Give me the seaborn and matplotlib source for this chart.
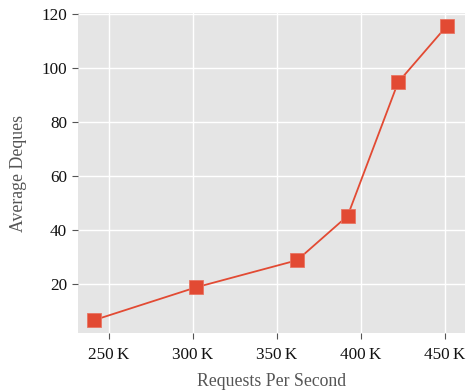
import matplotlib
matplotlib.use("Agg")
import matplotlib.pyplot as plt
import seaborn as sns
import pandas as pd
from matplotlib.ticker import FuncFormatter

requests_per_second = [241000, 302000, 362000, 392000, 422000, 451000]
average_deques = [6.7, 18.9, 28.9, 45.3, 94.7, 115.6]
x_ticks = [250000, 300000, 350000, 400000, 450000]
y_ticks = [20, 40, 60, 80, 100, 120]

df = pd.DataFrame({"rps": requests_per_second, "deques": average_deques})

sns.set_style("darkgrid", {"axes.facecolor": "#E5E5E5", "grid.color": "white"})
plt.rcParams["font.family"] = ["Liberation Serif", "DejaVu Serif"]

fig = plt.figure(figsize=(4.67, 3.92), dpi=100)
ax = fig.add_axes([0.167, 0.150, 0.829, 0.817])

sns.lineplot(data=df, x="rps", y="deques", ax=ax, color="#E24A33",
             marker="s", markersize=9.5, markeredgewidth=0.6,
             markeredgecolor="#E87563", linewidth=1.3)

ax.set_xlim(231600, 461900)
ax.set_ylim(1.9, 120.4)
ax.set_xticks(x_ticks)
ax.set_yticks(y_ticks)
ax.xaxis.set_major_formatter(FuncFormatter(lambda v, p: f"{v/1000:.0f}\u2009K"))
for s in ax.spines.values():
    s.set_visible(False)
ax.tick_params(axis="both", which="major", length=4, width=0.8, color="#555555",
               labelsize=12.3, labelcolor="#111111", direction="out",
               bottom=True, left=True)
ax.tick_params(axis="x", pad=6)
ax.tick_params(axis="y", pad=4)
ax.grid(True, color="white", linewidth=1.0)
ax.set_xlabel("Requests Per Second", fontsize=12.8, color="#555555", labelpad=7)
ax.set_ylabel("Average Deques", fontsize=12.8, color="#555555", labelpad=10)

fig.savefig("out.png", dpi=100)
